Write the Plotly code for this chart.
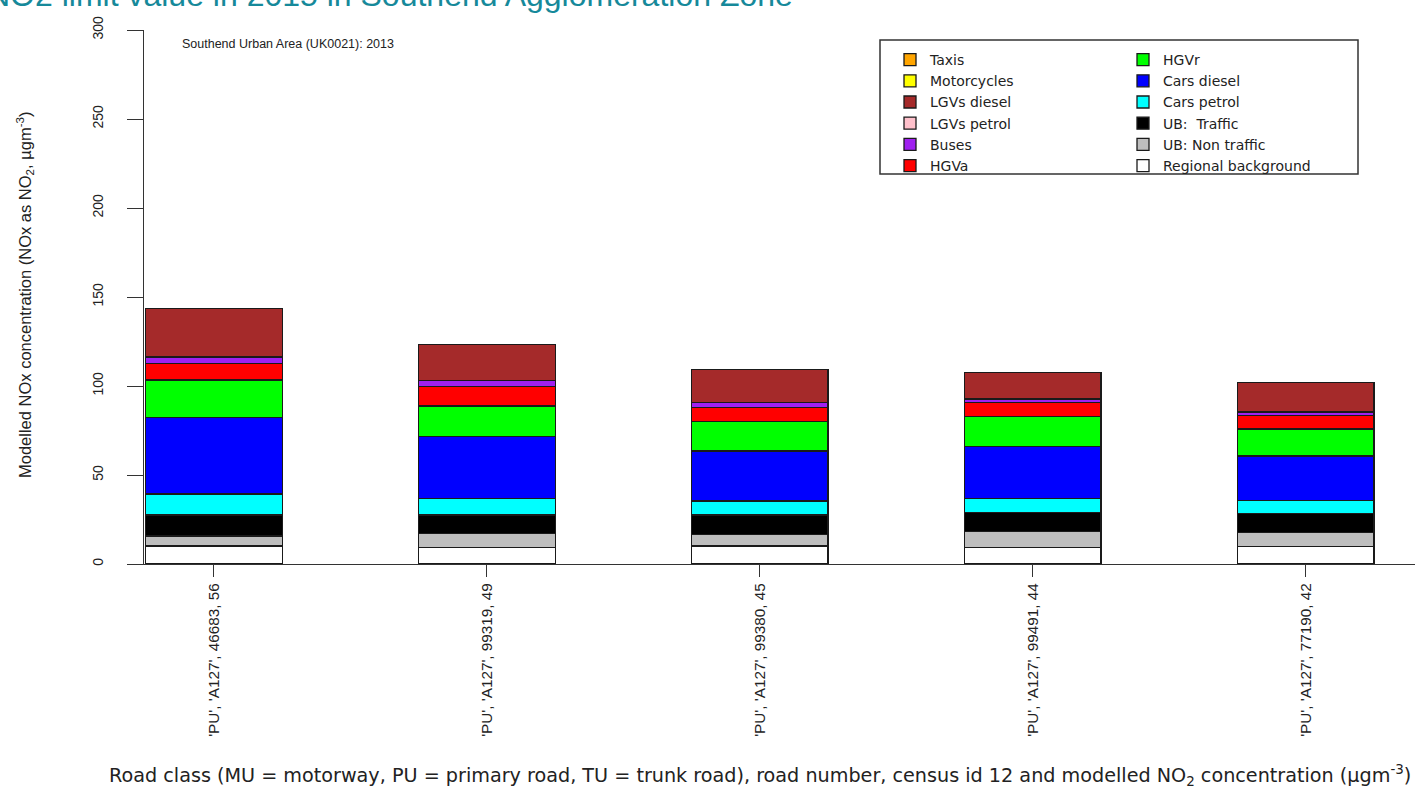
import plotly.graph_objects as go

# ---------------- data ----------------
roads = ["'PU', 'A127', 46683, 56", "'PU', 'A127', 99319, 49", "'PU', 'A127', 99380, 45",
         "'PU', 'A127', 99491, 44", "'PU', 'A127', 77190, 42"]

regional_background = [10.1, 9.4, 10.1, 9.4, 9.7]
ub_non_traffic = [5.6, 7.8, 6.6, 8.7, 8.1]
ub_traffic = [11.8, 10.3, 10.8, 10.7, 10.7]
cars_petrol = [11.8, 9.4, 7.9, 8.1, 7.1]
cars_diesel = [43.1, 34.6, 28.1, 29.0, 25.1]
hgv_rigid = [21.0, 17.3, 16.4, 16.9, 15.1]
hgv_artic = [9.3, 10.8, 7.9, 7.8, 7.5]
buses = [3.4, 3.4, 2.8, 2.1, 1.9]
lgv_petrol = [0.2, 0.2, 0.2, 0.2, 0.2]
lgv_diesel = [27.2, 20.0, 18.4, 14.8, 16.7]
motorcycles = [0.0, 0.0, 0.0, 0.0, 0.0]
taxis = [0.0, 0.0, 0.0, 0.0, 0.0]

# stacking order bottom -> top : (name, values, colour, legend group)
series = [
    ("Regional background", regional_background, "#FFFFFF", "legend2"),
    ("UB: Non traffic", ub_non_traffic, "#BEBEBE", "legend2"),
    ("UB:  Traffic", ub_traffic, "#000000", "legend2"),
    ("Cars petrol", cars_petrol, "#00FFFF", "legend2"),
    ("Cars diesel", cars_diesel, "#0000FF", "legend2"),
    ("HGVr", hgv_rigid, "#00FF00", "legend2"),
    ("HGVa", hgv_artic, "#FF0000", "legend"),
    ("Buses", buses, "#A020F0", "legend"),
    ("LGVs petrol", lgv_petrol, "#FFC0CB", "legend"),
    ("LGVs diesel", lgv_diesel, "#A52A2A", "legend"),
    ("Motorcycles", motorcycles, "#FFFF00", "legend"),
    ("Taxis", taxis, "#FFA500", "legend"),
]

W, H = 1417, 789
ML, MR, MT, MB = 144, 2, 30, 225
PW, PH = W - ML - MR, H - MT - MB

def px_x(p):
    return (p - ML) / PW

def px_y(p):
    return (H - MB - p) / PH

fig = go.Figure()
for name, vals, col, lg in series:
    fig.add_trace(go.Bar(
        x=roads, y=vals, name=name, width=0.5,
        marker=dict(color=col, line=dict(color="#1a1a1a", width=1.3)),
        legend=lg,
    ))

axis_font = dict(family="Liberation Sans, Arial", size=14, color="#222222")
leg_font = dict(family="DejaVu Sans, Liberation Sans, Arial", size=14, color="#222222")

fig.update_layout(
    width=W, height=H,
    barmode="stack",
    plot_bgcolor="white", paper_bgcolor="white",
    margin=dict(l=ML, r=MR, t=MT, b=MB, autoexpand=False),
    xaxis=dict(
        range=[-0.2564, 4.4], showline=True, linecolor="#333333", linewidth=1,
        ticks="outside", ticklen=12, tickcolor="#333333", tickangle=-90,
        tickfont=dict(family="Liberation Sans, Arial", size=15.3, color="#222222"),
        showgrid=False, zeroline=False,
    ),
    yaxis=dict(
        range=[0, 300], tickvals=[0, 50, 100, 150, 200, 250, 300],
        showline=True, linecolor="#333333", linewidth=1,
        ticks="outside", ticklen=16, tickcolor="#333333", tickangle=-90,
        tickfont=axis_font, ticklabelstandoff=18,
        showgrid=False, zeroline=False,
    ),
    legend=dict(xref="paper", yref="paper", x=px_x(890), y=px_y(44),
                xanchor="left", yanchor="top", traceorder="reversed",
                bgcolor="rgba(0,0,0,0)", font=leg_font),
    legend2=dict(xref="paper", yref="paper", x=px_x(1123), y=px_y(44),
                 xanchor="left", yanchor="top", traceorder="reversed",
                 bgcolor="rgba(0,0,0,0)", font=leg_font),
    bargap=0.5,
)

# legend frame
fig.add_shape(type="rect", xref="paper", yref="paper",
              x0=px_x(880), x1=px_x(1358), y0=px_y(174), y1=px_y(40),
              line=dict(color="#333333", width=1.5), fillcolor="rgba(0,0,0,0)")

# panel caption
fig.add_annotation(xref="paper", yref="paper", x=px_x(180), y=px_y(44),
                   xanchor="left", yanchor="middle", showarrow=False,
                   text="Southend Urban Area (UK0021): 2013",
                   font=dict(family="Liberation Sans, Arial", size=12.5, color="#222222"))

# y-axis title
fig.add_annotation(xref="paper", yref="paper", x=px_x(25), y=px_y(295),
                   xanchor="center", yanchor="middle", showarrow=False, textangle=-90,
                   text="Modelled NOx concentration (NOx as NO<sub>2</sub>, µgm<sup>-3</sup>)",
                   font=dict(family="Liberation Sans, Arial", size=16.5, color="#222222"))

# x-axis title
fig.add_annotation(xref="paper", yref="paper", x=px_x(760), y=px_y(775),
                   xanchor="center", yanchor="middle", showarrow=False,
                   text="Road class (MU = motorway, PU = primary road, TU = trunk road), road number, census id 12 and modelled NO<sub>2</sub> concentration (µgm<sup>-3</sup>)",
                   font=dict(family="DejaVu Sans, Liberation Sans, Arial", size=19.2, color="#222222"))

# cut-off page heading at the top
fig.add_annotation(xref="paper", yref="paper", x=px_x(795), y=px_y(15),
                   xanchor="right", yanchor="bottom", showarrow=False,
                   text="NO2 limit value in 2015 in Southend Agglomeration Zone",
                   font=dict(family="Liberation Sans, Arial", size=32, color="#16899A"))

fig.write_html("out.html")
